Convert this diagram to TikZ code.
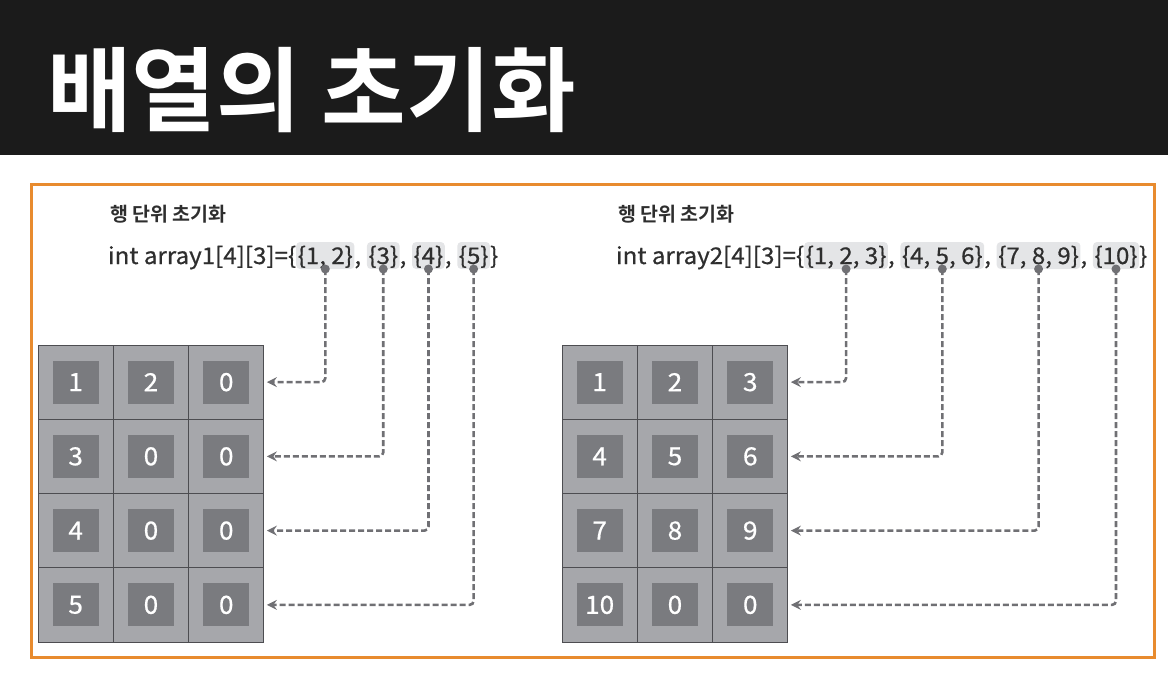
\documentclass[tikz,border=0pt]{standalone}
\usepackage{fontspec}
\usetikzlibrary{positioning,arrows.meta}
\newfontfamily\titlefont{Noto Sans CJK KR Bold}
\newfontfamily\subfont{Noto Sans CJK KR Bold}
\newfontfamily\codefont[FakeStretch=1.05,FakeBold=0.6]{Noto Sans CJK KR}
\definecolor{barblack}{HTML}{1B1B1B}
\definecolor{frameorange}{HTML}{E88B2E}
\definecolor{cellgray}{HTML}{A6A7AB}
\definecolor{innergray}{HTML}{7A7B7F}
\definecolor{gridline}{HTML}{4D4D51}
\definecolor{hlgray}{HTML}{E4E5E7}
\definecolor{conngray}{HTML}{707074}
\definecolor{textgray}{HTML}{2E2E2E}
\begin{document}
\begin{tikzpicture}[x=1pt,y=1pt,every node/.style={outer sep=0}]

\tikzstyle{cell} = [rectangle,draw=gridline,line width=1pt,fill=cellgray,minimum width=75.3pt,minimum height=74.25pt,inner sep=0,text=white,font=\codefont\fontsize{25}{25}\selectfont,path picture={\fill[innergray] ([xshift=-23pt,yshift=-21.5pt]path picture bounding box.center) rectangle ++(46,43);}]
\tikzstyle{code} = [inner sep=0,text=textgray,text height=22pt,text depth=5pt,font=\codefont\fontsize{23}{23}\selectfont]
\tikzstyle{hl} = [fill=hlgray,rounded corners=4pt,inner xsep=1.5pt,inner ysep=0]
\tikzstyle{subtitle} = [anchor=base west,inner sep=0,text=textgray,font=\subfont\fontsize{19.5}{19.5}\selectfont]
\tikzstyle{dot} = [fill=conngray]
\tikzstyle{conn} = [draw=conngray,line width=2.6pt,dash pattern=on 6pt off 3pt,rounded corners=4pt,-{Stealth[length=10pt,width=10pt,inset=3.5pt]},shorten >=3pt]

\useasboundingbox (0,0) rectangle (1168,-673);
\fill[barblack] (0,0) rectangle (1168,-155);
\node [anchor=base west,inner sep=0,text=white,font=\titlefont\fontsize{92}{92}\selectfont] (title) at (47,-124) {배열의 초기화};
\draw[frameorange,line width=3pt] (31.5,-184.5) rectangle (1154.5,-657.5);

% array1
\node [subtitle] (sub1) at (110,-221) {행 단위 초기화};
\node [code,anchor=base west] (c1) at (108,-264) {int array1[4][3]=\{};
\node [code,hl,right=0 of c1] (g1) {\{1, 2\}};
\node [code,right=0 of g1] (s1) {,\kern.25em};
\node [code,hl,right=0 of s1] (g2) {\{3\}};
\node [code,right=0 of g2] (s2) {,\kern.25em};
\node [code,hl,right=0 of s2] (g3) {\{4\}};
\node [code,right=0 of g3] (s3) {,\kern.25em};
\node [code,hl,right=0 of s3] (g4) {\{5\}};
\node [code,right=0 of g4] (e1) {\}};

\node [cell,anchor=north west] (a11) at (38,-345) {1};
\node [cell,right=0 of a11] (a12) {2};
\node [cell,right=0 of a12] (a13) {0};
\node [cell,below=0 of a11] (a21) {3};
\node [cell,right=0 of a21] (a22) {0};
\node [cell,right=0 of a22] (a23) {0};
\node [cell,below=0 of a21] (a31) {4};
\node [cell,right=0 of a31] (a32) {0};
\node [cell,right=0 of a32] (a33) {0};
\node [cell,below=0 of a31] (a41) {5};
\node [cell,right=0 of a41] (a42) {0};
\node [cell,right=0 of a42] (a43) {0};

\draw[conn] (g1.south) |- (a13.east);
\draw[conn] (g2.south) |- (a23.east);
\draw[conn] (g3.south) |- (a33.east);
\draw[conn] (g4.south) |- (a43.east);
\fill[dot] (g1.south) circle (4.5);
\fill[dot] (g2.south) circle (4.5);
\fill[dot] (g3.south) circle (4.5);
\fill[dot] (g4.south) circle (4.5);

% array2
\node [subtitle] (sub2) at (618,-221) {행 단위 초기화};
\node [code,anchor=base west] (c2) at (616,-264) {int array2[4][3]=\{};
\node [code,hl,right=0 of c2] (h1) {\{1, 2, 3\}};
\node [code,right=0 of h1] (t1) {,\kern.25em};
\node [code,hl,right=0 of t1] (h2) {\{4, 5, 6\}};
\node [code,right=0 of h2] (t2) {,\kern.25em};
\node [code,hl,right=0 of t2] (h3) {\{7, 8, 9\}};
\node [code,right=0 of h3] (t3) {,\kern.25em};
\node [code,hl,right=0 of t3] (h4) {\{10\}};
\node [code,right=0 of h4] (e2) {\}};

\node [cell,anchor=north west] (b11) at (562,-345) {1};
\node [cell,right=0 of b11] (b12) {2};
\node [cell,right=0 of b12] (b13) {3};
\node [cell,below=0 of b11] (b21) {4};
\node [cell,right=0 of b21] (b22) {5};
\node [cell,right=0 of b22] (b23) {6};
\node [cell,below=0 of b21] (b31) {7};
\node [cell,right=0 of b31] (b32) {8};
\node [cell,right=0 of b32] (b33) {9};
\node [cell,below=0 of b31] (b41) {10};
\node [cell,right=0 of b41] (b42) {0};
\node [cell,right=0 of b42] (b43) {0};

\draw[conn] (h1.south) |- (b13.east);
\draw[conn] (h2.south) |- (b23.east);
\draw[conn] (h3.south) |- (b33.east);
\draw[conn] (h4.south) |- (b43.east);
\fill[dot] (h1.south) circle (4.5);
\fill[dot] (h2.south) circle (4.5);
\fill[dot] (h3.south) circle (4.5);
\fill[dot] (h4.south) circle (4.5);
\end{tikzpicture}
\end{document}
